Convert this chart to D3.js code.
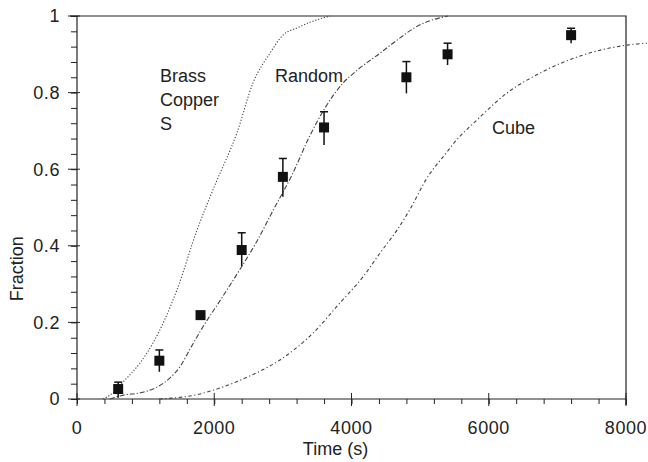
<!DOCTYPE html>
<html>
<head>
<meta charset="utf-8">
<script src="https://cdn.jsdelivr.net/npm/d3@7"></script>
<style>
  html, body { margin: 0; padding: 0; background: #fff; }
  svg { display: block; font-family: "Liberation Sans", Arial, sans-serif; }
</style>
</head>
<body>
<div id="chart"></div>
<script>
// measured points (time in s, fraction recrystallised)
const timeS    = [600, 1200, 1800, 2400, 3000, 3600, 4800, 5400, 7200];
const fraction = [0.026, 0.100, 0.219, 0.389, 0.580, 0.709, 0.840, 0.900, 0.950];
const errLow   = [0.003, 0.071, 0.219, 0.347, 0.528, 0.663, 0.798, 0.872, 0.929];
const errHigh  = [0.044, 0.128, 0.219, 0.434, 0.628, 0.750, 0.881, 0.929, 0.968];

// model curves
const brassX = [380, 525, 670, 918, 1107, 1457, 1749, 2011, 2331, 2564, 2812, 3002, 3206, 3584, 3690];
const brassY = [0, 0.016, 0.044, 0.094, 0.146, 0.285, 0.441, 0.559, 0.695, 0.825, 0.903, 0.950, 0.969, 0.995, 1.0];

const randomX = [480, 670, 918, 1166, 1355, 1500, 1646, 1790, 2125, 2370, 2622, 2856, 3133, 3395, 3614, 3876, 4080, 4415, 4604, 4998, 5406];
const randomY = [0, 0.010, 0.016, 0.031, 0.055, 0.084, 0.130, 0.175, 0.268, 0.337, 0.412, 0.492, 0.585, 0.688, 0.760, 0.825, 0.858, 0.903, 0.929, 0.977, 1.0];

const cubeX = [1200, 1792, 2040, 2477, 2958, 3439, 3832, 4168, 4415, 4663, 4852, 5100, 5392, 5479, 5872, 6266, 6747, 7373, 8015, 8306];
const cubeY = [0, 0.013, 0.026, 0.057, 0.102, 0.172, 0.251, 0.319, 0.381, 0.441, 0.495, 0.577, 0.645, 0.665, 0.736, 0.799, 0.851, 0.898, 0.924, 0.929];

const xTicks = [0, 2000, 4000, 6000, 8000];
const yTicks = [0, 0.2, 0.4, 0.6, 0.8, 1];
const yTickLabels = ['0', '0.2', '0.4', '0.6', '0.8', '1'];

const curveNames = ['Brass\nCopper\nS', 'Random', 'Cube'];

const width = 648, height = 462;
const margin = { top: 16, right: 22, bottom: 63, left: 77 };

const svg = d3.select('#chart').append('svg')
  .attr('width', width)
  .attr('height', height);

const x = d3.scaleLinear().domain([0, 8000]).range([margin.left, width - margin.right]);
const y = d3.scaleLinear().domain([0, 1]).range([height - margin.bottom, margin.top]);

const ink = '#222';

// frame: top and right sides
svg.append('path')
  .attr('d', `M${x(0) - 7},${y(1)}H${x(8000)}V${y(0) + 6}`)
  .attr('fill', 'none')
  .attr('stroke', ink)
  .attr('stroke-width', 1.2);

// x axis
const xAxis = svg.append('g')
  .attr('transform', `translate(0,${y(0)})`);
xAxis.call(d3.axisBottom(x).tickValues(d3.range(0, 8001, 400)).tickSize(5).tickFormat(''));
xAxis.call(g => g.select('.domain').remove());
xAxis.append('line')
  .attr('x1', x(0)).attr('x2', x(8000))
  .attr('stroke', ink).attr('stroke-width', 1.2);
xAxis.selectAll('.tick line').attr('stroke', ink);
// major ticks cross the axis
xAxis.selectAll('.major')
  .data(xTicks)
  .enter().append('line')
  .attr('x1', d => x(d)).attr('x2', d => x(d))
  .attr('y1', -6).attr('y2', 7)
  .attr('stroke', ink);
xAxis.selectAll('.xlab')
  .data(xTicks)
  .enter().append('text')
  .attr('x', d => x(d))
  .attr('y', 29)
  .attr('dy', '0.35em')
  .attr('text-anchor', 'middle')
  .attr('font-size', 18)
  .attr('fill', ink)
  .attr('letter-spacing', 0.6)
  .text(d => d);

svg.append('text')
  .attr('x', x(4000) - 16)
  .attr('y', y(0) + 50)
  .attr('dy', '0.35em')
  .attr('text-anchor', 'middle')
  .attr('font-size', 18)
  .attr('fill', ink)
  .text('Time (s)');

// y axis
const yAxis = svg.append('g')
  .attr('transform', `translate(${x(0)},0)`);
yAxis.call(d3.axisLeft(y).tickValues(d3.range(0, 1.0001, 0.04)).tickSize(6).tickFormat(''));
yAxis.call(g => g.select('.domain').remove());
yAxis.append('line')
  .attr('y1', y(0)).attr('y2', y(1))
  .attr('stroke', ink).attr('stroke-width', 1.2);
yAxis.selectAll('.tick line').attr('stroke', ink);
yAxis.selectAll('.major')
  .data(yTicks)
  .enter().append('line')
  .attr('x1', -9).attr('x2', 3)
  .attr('y1', d => y(d)).attr('y2', d => y(d))
  .attr('stroke', ink);
yAxis.selectAll('.ylab')
  .data(yTicks)
  .enter().append('text')
  .attr('x', -17)
  .attr('y', d => y(d))
  .attr('dy', '0.35em')
  .attr('text-anchor', 'end')
  .attr('font-size', 18)
  .attr('fill', ink)
  .attr('letter-spacing', 0.6)
  .text((d, i) => yTickLabels[i]);

svg.append('text')
  .attr('transform', `translate(17,${y(0.34)}) rotate(-90)`)
  .attr('dy', '0.35em')
  .attr('text-anchor', 'middle')
  .attr('font-size', 18)
  .attr('fill', ink)
  .text('Fraction');

// curves
const line = d3.line()
  .x(d => x(d[0]))
  .y(d => y(d[1]))
  .curve(d3.curveMonotoneX);

const curves = [
  { xs: brassX, ys: brassY, dash: '1.2,1.8' },
  { xs: randomX, ys: randomY, dash: '5,2,1.2,2' },
  { xs: cubeX, ys: cubeY, dash: '3.5,2.5,1.2,2.5' }
];

svg.selectAll('.curve')
  .data(curves)
  .enter().append('path')
  .attr('class', 'curve')
  .attr('d', d => line(d3.zip(d.xs, d.ys)))
  .attr('fill', 'none')
  .attr('stroke', '#444')
  .attr('stroke-width', 1.1)
  .attr('stroke-dasharray', d => d.dash);

// curve labels
const labelPos = [[160, 82], [275, 82], [492, 134]];
curveNames.forEach((name, i) => {
  const t = svg.append('text')
    .attr('x', labelPos[i][0])
    .attr('y', labelPos[i][1])
    .attr('font-size', 18)
    .attr('fill', ink);
  name.split('\n').forEach((s, j) => {
    t.append('tspan')
      .attr('x', labelPos[i][0])
      .attr('dy', j === 0 ? 0 : 24)
      .text(s);
  });
});

// error bars + markers
const pts = timeS.map((t, i) => ({ t, f: fraction[i], lo: errLow[i], hi: errHigh[i] }));

const bars = svg.append('g').attr('stroke', '#111').attr('stroke-width', 1.5);
bars.selectAll('.err')
  .data(pts.filter(d => d.hi > d.lo))
  .enter().append('line')
  .attr('x1', d => x(d.t)).attr('x2', d => x(d.t))
  .attr('y1', d => y(d.hi)).attr('y2', d => y(d.lo));
bars.selectAll('.cap')
  .data(pts.filter(d => d.hi > d.lo))
  .enter().append('line')
  .attr('x1', d => x(d.t) - 4).attr('x2', d => x(d.t) + 4)
  .attr('y1', d => y(d.hi)).attr('y2', d => y(d.hi));

const sq = 10;
svg.selectAll('.pt')
  .data(pts)
  .enter().append('rect')
  .attr('x', d => x(d.t) - sq / 2)
  .attr('y', d => y(d.f) - sq / 2)
  .attr('width', sq)
  .attr('height', sq)
  .attr('fill', '#111');
</script>
</body>
</html>
